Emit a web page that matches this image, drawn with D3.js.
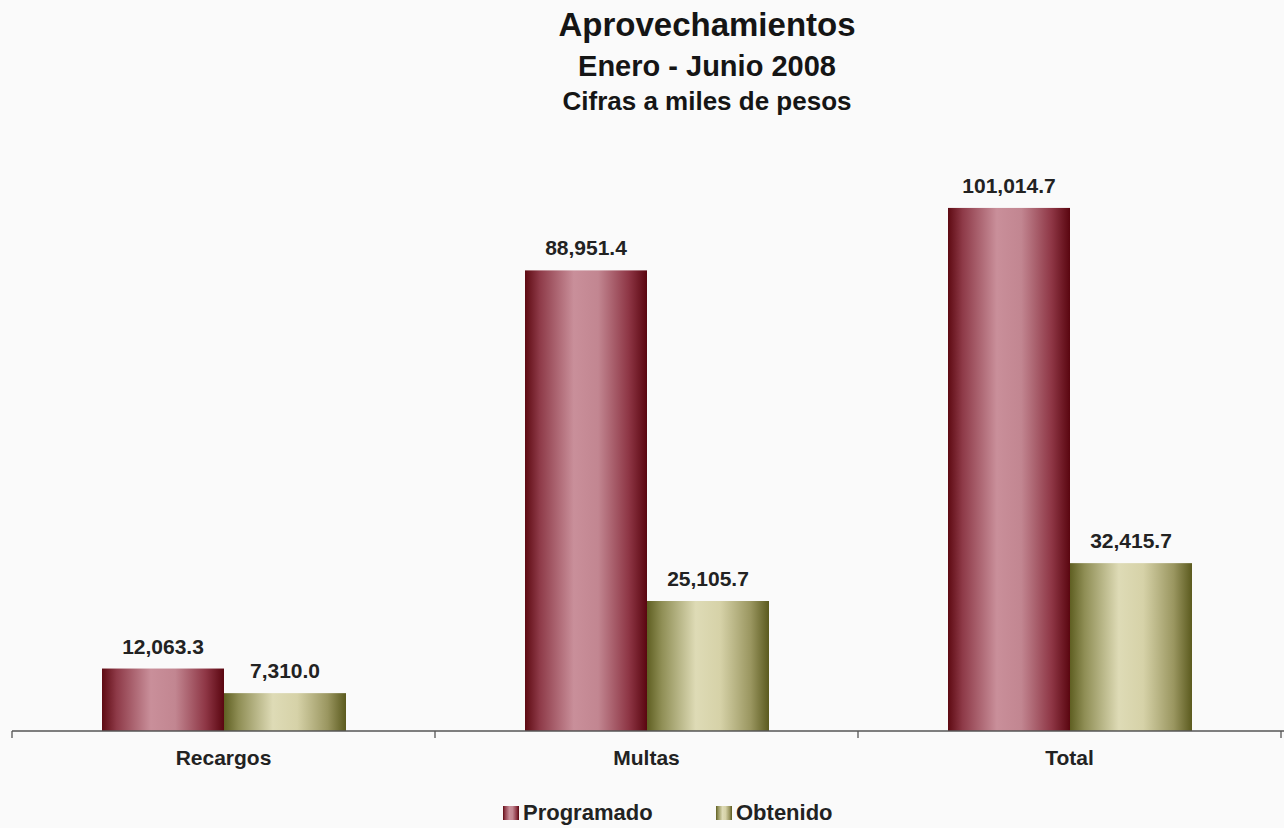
<!DOCTYPE html>
<html><head><meta charset="utf-8">
<script src="https://cdn.jsdelivr.net/npm/d3@7"></script>
<style>body{margin:0;background:#fafafa;}svg{display:block;font-family:"Liberation Sans",Arial,sans-serif;}</style>
</head><body><svg id="c" width="1284" height="828"></svg>
<script>
const categories = ["Recargos", "Multas", "Total"];
const seriesNames = ["Programado", "Obtenido"];
const programado = [12063.3, 88951.4, 101014.7];
const obtenido = [7310.0, 25105.7, 32415.7];
const titles = ["Aprovechamientos", "Enero - Junio 2008", "Cifras a miles de pesos"];

const svg = d3.select("#c");
svg.append("rect").attr("width",1284).attr("height",828).attr("fill","#fafafa");

const defs = svg.append("defs");
function grad(id, stops){
  const g = defs.append("linearGradient").attr("id",id).attr("x1","0%").attr("x2","100%").attr("y1","0%").attr("y2","0%");
  stops.forEach(s=>g.append("stop").attr("offset",s[0]).attr("stop-color",s[1]));
}
grad("gP",[["0%","#5e0a12"],["12%","#8e3a48"],["40%","#c98f9a"],["60%","#c28691"],["85%","#8e3645"],["100%","#5a0610"]]);
grad("gO",[["0%","#5f5f22"],["12%","#8f8e55"],["40%","#dedbb6"],["60%","#d6d2a8"],["85%","#9a9660"],["100%","#5b5a1e"]]);
const fills = ["url(#gP)","url(#gO)"];

const x0 = d3.scaleBand().domain(categories).range([12,1281]).paddingInner(0).paddingOuter(0);
const x1 = d3.scaleBand().domain(seriesNames).range([90, x0.bandwidth()-89]).padding(0);
const y = d3.scaleLinear().domain([0,110000]).range([731,161.4]);

const data = categories.map((c,i)=>({cat:c, vals:[programado[i], obtenido[i]]}));
const fmt = d3.format(",.1f");

const g = svg.append("g");
data.forEach(d=>{
  const gg = g.append("g").attr("transform",`translate(${x0(d.cat)},0)`);
  d.vals.forEach((v,j)=>{
    const s = seriesNames[j];
    gg.append("rect").attr("x",x1(s)).attr("y",y(v)).attr("width",x1.bandwidth()).attr("height",y(0)-y(v)).attr("fill",fills[j]);
    gg.append("text").attr("x",x1(s)+x1.bandwidth()/2).attr("y",y(v)-15).attr("text-anchor","middle")
      .attr("font-size",21).attr("font-weight","bold").attr("fill","#222").text(fmt(v));
  });
});

// axis
const ax = svg.append("g").attr("transform","translate(0,731)");
ax.append("line").attr("x1",12).attr("x2",1284).attr("stroke","#555").attr("stroke-width",1.3);
const ticks = categories.map(c=>x0(c)).concat([x0(categories[categories.length-1])+x0.bandwidth()]);
ticks.forEach(t=>ax.append("line").attr("x1",t).attr("x2",t).attr("y1",0).attr("y2",7).attr("stroke","#555").attr("stroke-width",1.3));
categories.forEach(c=>ax.append("text").attr("x",x0(c)+x0.bandwidth()/2).attr("y",34).attr("text-anchor","middle")
  .attr("font-size",21).attr("font-weight","bold").attr("fill","#222").text(c));

// titles
const tf=[33,29,26], ty=[36,76,110];
titles.forEach((t,i)=>svg.append("text").attr("x",707).attr("y",ty[i]).attr("text-anchor","middle")
  .attr("font-size",tf[i]).attr("font-weight","bold").attr("fill","#151515").text(t));

// legend
const lx=[503,716];
seriesNames.forEach((s,i)=>{
  svg.append("rect").attr("x",lx[i]).attr("y",806).attr("width",16).attr("height",14).attr("fill",fills[i]);
  svg.append("text").attr("x",lx[i]+20).attr("y",820).attr("font-size",22).attr("font-weight","bold").attr("fill","#222").text(s);
});
</script></body></html>
